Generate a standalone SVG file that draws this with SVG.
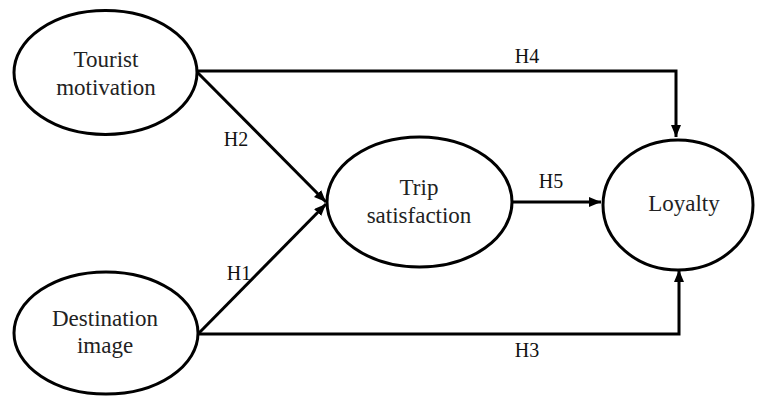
<svg xmlns="http://www.w3.org/2000/svg" width="757" height="396" viewBox="0 0 757 396">
<defs>
<marker id="ah" viewBox="0 0 12 10" refX="12" refY="5" markerWidth="12" markerHeight="10" markerUnits="userSpaceOnUse" orient="auto">
<path d="M0,0 L12,5 L0,10 Z" fill="#000"/>
</marker>
</defs>
<style>
.node ellipse{fill:#fff;stroke:#000;stroke-width:3}
text{font-family:'Liberation Serif','Times New Roman','DejaVu Serif',serif}
.t{font-size:23px;fill:#222;text-anchor:middle}
.lbl{font-size:20px;fill:#111;text-anchor:middle}
.edge{fill:none;stroke:#000;stroke-width:3;marker-end:url(#ah)}
</style>
<rect width="757" height="396" fill="#fff"/>
<g id="connectors">
<path class="edge" d="M197,71 H676 V137"/>
<path class="edge" d="M197,72 L326,202"/>
<path class="edge" d="M199,333 L326,204"/>
<path class="edge" d="M512,202 H601"/>
<path class="edge" d="M199,334 H679 V270"/>
<text class="lbl" x="527" y="63">H4</text>
<text class="lbl" x="236" y="146">H2</text>
<text class="lbl" x="239" y="280">H1</text>
<text class="lbl" x="551" y="188">H5</text>
<text class="lbl" x="527" y="357">H3</text>
</g>
<g id="tourist" class="node">
<ellipse cx="105.5" cy="72.5" rx="91.5" ry="62"/>
<text class="t" x="106" y="67">Tourist</text>
<text class="t" x="106" y="95">motivation</text>
</g>
<g id="destination" class="node">
<ellipse cx="106" cy="333" rx="92" ry="61"/>
<text class="t" x="105" y="326">Destination</text>
<text class="t" x="105" y="353">image</text>
</g>
<g id="trip" class="node">
<ellipse cx="419.5" cy="202" rx="92.5" ry="65"/>
<text class="t" x="419" y="195">Trip</text>
<text class="t" x="419" y="223">satisfaction</text>
</g>
<g id="loyalty" class="node">
<ellipse cx="678" cy="205" rx="75" ry="65"/>
<text class="t" x="684" y="211">Loyalty</text>
</g>
</svg>
